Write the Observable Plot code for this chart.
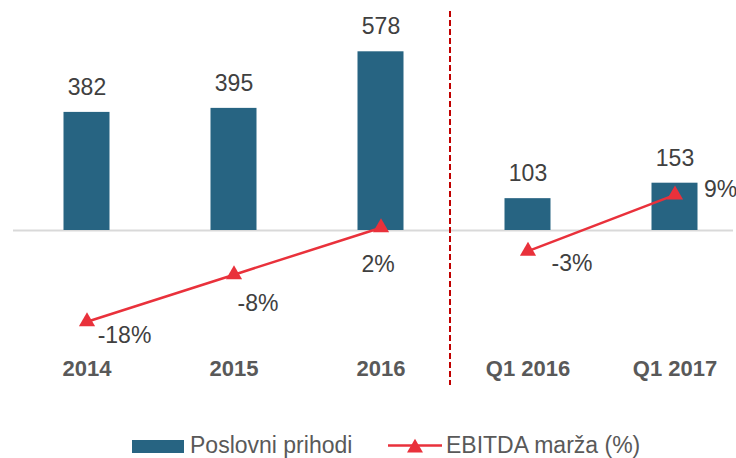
<!DOCTYPE html>
<html><head><meta charset="utf-8">
<script src="https://cdn.jsdelivr.net/npm/d3@7"></script>
<script src="https://cdn.jsdelivr.net/npm/@observablehq/plot@0.6"></script>
<style>
body{margin:0;background:#fff;font-family:"Liberation Sans",Arial,sans-serif}
#legend{position:relative;width:736px;height:38px}
#legend .sw{position:absolute;left:132px;top:19.5px;width:52px;height:13px;background:#276482}
#legend .tx{position:absolute;top:13.5px;font-size:23px;line-height:23px;color:#595959;white-space:nowrap}
#legend svg{position:absolute;left:386px;top:16px}
</style>
</head><body>
<div id="chart"></div>
<div id="legend"></div>
<script>
// Data
const categories = ["2014", "2015", "2016", "Q1 2016", "Q1 2017"];
const revenue = [382, 395, 578, 103, 153];            // Poslovni prihodi
const ebitdaMargin = [-18, -8, 2, -3, 9];             // EBITDA marža (%)
const periodGroup = ["god", "god", "god", "kv", "kv"];
const seriesNames = ["Poslovni prihodi", "EBITDA marža (%)"];

// Label placement for margin labels (layout only)
const marginLabelDx = [37.5, 24, -3, 44, 45.5];
const marginLabelDy = [13.7, 28.7, 36.7, 12.2, -5.3];

const barColor = "#276482";
const lineColor = "#e9313b";

const rows = categories.map((c, i) => ({cat: c, rev: revenue[i], m: ebitdaMargin[i], grp: periodGroup[i], i}));

// secondary axis: margin (%) mapped into revenue units
const pctToRev = d3.scaleLinear().domain([0, 10]).range([-21.35, -21.35 + 152]);

const marks = [
  Plot.ruleY([0], {stroke: "#d9d9d9", strokeWidth: 2}),
  Plot.barY(rows, {x: "cat", y: "rev", fill: barColor, insetLeft: 50.5, insetRight: 50.5}),
  Plot.text(rows, {x: "cat", y: "rev", text: d => String(d.rev), dy: -25, fill: "#404040", fontSize: 23}),
  Plot.ruleX(["2016"], {dx: 69, stroke: "#c00000", strokeWidth: 2, strokeDasharray: "6,3"}),
  Plot.line(rows, {x: "cat", y: d => pctToRev(d.m), z: "grp", stroke: lineColor, strokeWidth: 2.5}),
  Plot.dot(rows, {x: "cat", y: d => pctToRev(d.m), symbol: "triangle", r: 6, fill: lineColor, stroke: "none"}),
  ...rows.map((d, i) => Plot.text([d], {x: "cat", y: r => pctToRev(r.m), text: r => r.m + "%", dx: marginLabelDx[i], dy: marginLabelDy[i], fill: "#404040", fontSize: 23})),
  Plot.text(rows, {x: "cat", frameAnchor: "bottom", text: "cat", dy: -9.5, fontWeight: "bold", fill: "#595959", fontSize: 22})
];

const chart = Plot.plot({
  width: 736,
  height: 420,
  marginLeft: 13,
  marginRight: 3,
  marginTop: 11,
  marginBottom: 35,
  style: {fontFamily: "Liberation Sans, Arial, sans-serif", background: "#fff", overflow: "visible"},
  x: {type: "band", domain: categories, range: [12.5, 747.5], padding: 0, axis: null},
  y: {domain: [0, 578], range: [230, 51.3], axis: null},
  marks
});
document.getElementById("chart").appendChild(chart);

// Legend
const lg = document.getElementById("legend");
lg.innerHTML = `<div class="sw"></div><div class="tx" style="left:190px">${seriesNames[0]}</div>
<svg width="58" height="20"><line x1="2" y1="9.5" x2="56" y2="9.5" stroke="${lineColor}" stroke-width="2.5"/>
<path transform="translate(29,12)" d="${d3.symbol(d3.symbolTriangle, 110)()}" fill="${lineColor}"/></svg>
<div class="tx" style="left:446px">${seriesNames[1]}</div>`;
</script>
</body></html>
